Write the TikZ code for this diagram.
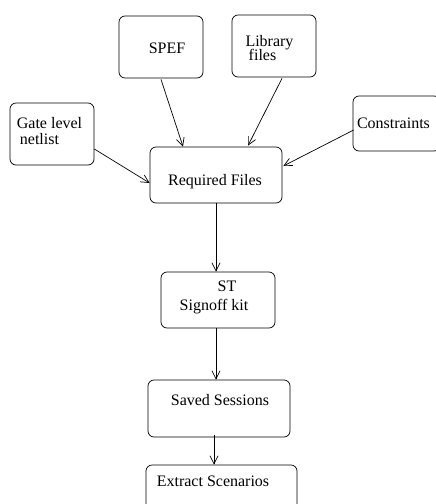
\documentclass[tikz,border=0pt]{standalone}
\usepackage{fontspec}
\setmainfont{Liberation Serif}
\usetikzlibrary{arrows.meta,calc}
\begin{document}
\begin{tikzpicture}[x=1pt,y=-1pt,
  box/.style={draw,rounded corners=6pt,line width=0.7pt,inner sep=0pt},
  lbl/.style={anchor=base,inner sep=0pt,font=\fontsize{16}{18}\selectfont},
  conn/.style={-{Straight Barb[length=8pt,width=8pt]},line width=0.7pt}]
\useasboundingbox (0,0) rectangle (436,504);
% boxes
\node[box,minimum width=84pt,minimum height=62pt] (spef) at (161,47) {};
\node[box,minimum width=84pt,minimum height=62pt] (lib) at (274,46) {};
\node[box,minimum width=84pt,minimum height=62pt] (gate) at (52,134) {};
\node[box,minimum width=87pt,minimum height=55pt] (cons) at (396.5,123.5) {};
\node[box,minimum width=132pt,minimum height=56pt] (req) at (216,175) {};
\node[box,minimum width=114pt,minimum height=56pt] (st) at (218,300) {};
\node[box,minimum width=142pt,minimum height=57pt] (saved) at (219,408.5) {};
\node[box,minimum width=151pt,minimum height=60pt] (extract) at (221.5,495) {};
% texts
\node[lbl] (t1) at (167,53) {SPEF};
\node[lbl] (t2) at (269.5,46.5) {Library};
\node[lbl] (t3) at (262.5,60) {files};
\node[lbl] (t4) at (49.5,128) {Gate level};
\node[lbl] (t5) at (39.5,144) {netlist};
\node[lbl] (t6) at (393.5,128) {Constraints};
\node[lbl] (t7) at (215,185) {Required Files};
\node[lbl] (t8) at (227,291) {ST};
\node[lbl] (t9) at (214,310) {Signoff kit};
\node[lbl] (t10) at (220,405) {Saved Sessions};
\node[lbl] (t11) at (213,486.5) {Extract Scenarios};
% connectors
\draw[conn] ($(spef.south)+(0,1)$) -- ($(req.north)+(-33,0)$);
\draw[conn] ($(lib.south)+(8,1)$) -- ($(req.north)+(32,-1)$);
\draw[conn] ($(gate.east)+(0,15)$) -- ($(req.west)+(0,8)$);
\draw[conn] ($(cons.west)+(1,6.5)$) -- ($(req.east)+(1,-9)$);
\coordinate (a1) at (req.south);
\draw[conn] (a1) -- (a1 |- st.north);
\coordinate (a2) at (a1 |- st.south);
\draw[conn] (a2) -- (a2 |- saved.north);
\coordinate (a3) at ($(saved.south)+(-5,-2)$);
\draw[conn] (a3) -- (a3 |- extract.north);
\end{tikzpicture}
\end{document}
